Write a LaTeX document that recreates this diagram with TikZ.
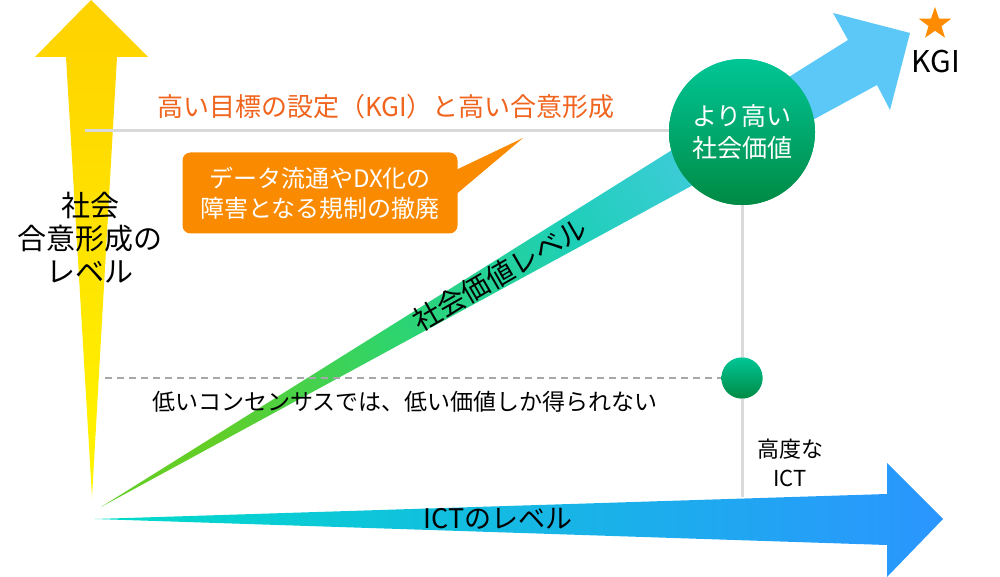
\documentclass[tikz,border=0pt]{standalone}
\usepackage{fontspec}
\setmainfont{Noto Sans CJK JP}
\usetikzlibrary{shapes.geometric,calc}

\definecolor{goalorange}{HTML}{F0641E}
\definecolor{boxorange}{HTML}{FA8A00}
\definecolor{starorange}{HTML}{FF8C00}
\definecolor{guidegray}{HTML}{D9D9D9}
\definecolor{dashgray}{HTML}{A8A8A8}
\definecolor{consensustop}{HTML}{FFD200}
\definecolor{consensusbottom}{HTML}{FFF500}
\definecolor{icttail}{HTML}{00DCC8}
\definecolor{ictmid}{HTML}{08C6DA}
\definecolor{icthead}{HTML}{2B95FF}
\definecolor{valgreen}{HTML}{62CE26}
\definecolor{valmint}{HTML}{2ED46C}
\definecolor{valteal}{HTML}{1ECFB8}
\definecolor{valsky}{HTML}{5CC8F8}
\definecolor{circletop}{HTML}{00C696}
\definecolor{circlebottom}{HTML}{008A44}

\pgfdeclarehorizontalshading{valueshade}{100bp}{color(0bp)=(valgreen); color(25bp)=(valgreen); color(40bp)=(valmint); color(55bp)=(valteal); color(75bp)=(valsky); color(100bp)=(valsky)}

\begin{document}
\begin{tikzpicture}[x=1pt, y=-1pt,
    guide/.style={draw=guidegray, line width=3pt},
    lowguide/.style={draw=dashgray, line width=1.6pt, dash pattern=on 7pt off 5pt},
    plaintext/.style={inner sep=0pt, align=center},
    valuecircle/.style={circle, inner sep=0pt, align=center, top color=circletop, bottom color=circlebottom}]
    \useasboundingbox (0,0) rectangle (1000,577);

    % axis arrows
    \shade[top color=consensustop, bottom color=consensusbottom]
        (91,0) -- (148,57) -- (117,57) -- (92,497) -- (66,57) -- (35,57) -- cycle;
    \coordinate (goal start) at (85,131);
    \coordinate (low start) at (105,378);
    \coordinate (ict top) at (742,497);

    \node[valuecircle, minimum size=146pt] (high) at (742,132) {};
    \node[valuecircle, minimum size=41pt] (low) at (742,378) {};

    \draw[guide] (goal start) -- (goal start -| high.west);
    \draw[guide] (high.south) -- (ict top);

    \shade[shading=valueshade, shading angle=30]
        (101,507) -- (848,40) -- (833,13) -- (910,33) -- (890,110) -- (877,85) -- cycle;
    \shade[left color=icttail, middle color=ictmid, right color=icthead]
        (95,519) -- (887,494) -- (887,463) -- (943,519) -- (887,577) -- (887,545) -- cycle;

    \draw[lowguide] (low start) -- (low.west);
    \node[valuecircle, minimum size=146pt, text=white, font={\fontsize{25}{32}\selectfont}] at (high) {より高い\\社会価値};
    \node[valuecircle, minimum size=41pt] at (low) {};

    % callout
    \node[plaintext, fill=boxorange, rounded corners=8pt, minimum width=275pt, minimum height=81pt,
        text=white, font={\fontsize{24}{30}\selectfont}] (barrier) at (320,193) {データ流通やDX化の\\障害となる規制の撤廃};
    \coordinate (pointer tip) at (523,138);
    \fill[boxorange] ($(barrier.east)+(-6,-21)$) -- (pointer tip) -- ($(barrier.east)+(-6,5)$) -- cycle;

    % texts
    \node[plaintext, text=goalorange, font={\fontsize{26}{30}\selectfont}] (goal) at (386,107) {高い目標の設定（KGI）と高い合意形成};
    \node[plaintext, font={\fontsize{29}{33}\selectfont}] (consensus) at (90,238) {社会\\合意形成の\\レベル};
    \node[plaintext, rotate=30, font={\fontsize{28}{33}\selectfont}] (value level) at (500,274) {社会価値レベル};
    \node[plaintext, font={\fontsize{23}{28}\selectfont}] (low text) at (405,402) {低いコンセンサスでは、低い価値しか得られない};
    \node[plaintext, font={\fontsize{22}{29}\selectfont}] (advanced) at (790,463) {高度な\\ICT};
    \node[plaintext, font={\fontsize{27}{30}\selectfont}] (ict level) at (498,519) {ICTのレベル};
    \node[star, star points=5, star point ratio=2.5, inner sep=0pt, minimum size=34pt, fill=starorange] (kgi star) at (935,24) {};
    \node[plaintext, font={\fontsize{30}{30}\selectfont}] (kgi) at (936,62) {KGI};
\end{tikzpicture}
\end{document}
